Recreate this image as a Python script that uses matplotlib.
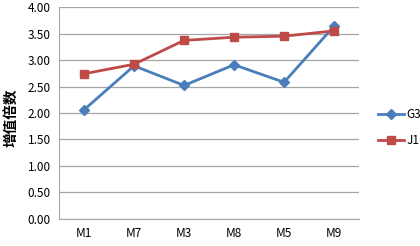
import matplotlib
matplotlib.use("Agg")
import matplotlib.pyplot as plt

plt.rcParams['font.family'] = ['Noto Sans CJK SC', 'DejaVu Sans']

categories = ["M1", "M7", "M3", "M8", "M5", "M9"]
g3 = [2.06, 2.89, 2.52, 2.91, 2.58, 3.64]
j1 = [2.74, 2.92, 3.37, 3.43, 3.45, 3.55]
yticks = [0.0, 0.5, 1.0, 1.5, 2.0, 2.5, 3.0, 3.5, 4.0]

fig = plt.figure(figsize=(4.2, 2.46), dpi=100)
ax = fig.add_axes([0.1405, 0.1098, 0.7145, 0.8617])

x = range(len(categories))
ax.plot(x, g3, color="#4A7EBB", lw=2, marker="D", ms=5, label="G3")
ax.plot(x, j1, color="#BE4B48", lw=2, marker="s", ms=6, label="J1")

ax.set_xlim(-0.5, len(categories) - 0.5)
ax.set_ylim(0, 4)
ax.set_yticks(yticks)
ax.set_yticklabels(["%.2f" % v for v in yticks], fontsize=8.5)
ax.set_xticks(list(x))
ax.set_xticklabels(categories, fontsize=8.5)
ax.tick_params(length=0, pad=6)
ax.yaxis.grid(True, color="#A6A6A6", lw=0.9)
ax.set_axisbelow(True)
for s in ["top", "right"]:
    ax.spines[s].set_visible(False)
for s in ["left", "bottom"]:
    ax.spines[s].set_color("#A6A6A6")
fig.text(0.026, 0.52, "增值倍数", rotation=90, fontsize=10.5, fontweight="bold",
         ha="center", va="center")

ax.legend(loc="center left", bbox_to_anchor=(1.035, 0.432), frameon=False,
          fontsize=8.5, handlelength=2.2, labelspacing=1.1, handletextpad=0.2,
          borderaxespad=0.3)

fig.savefig("out.png", dpi=100)
